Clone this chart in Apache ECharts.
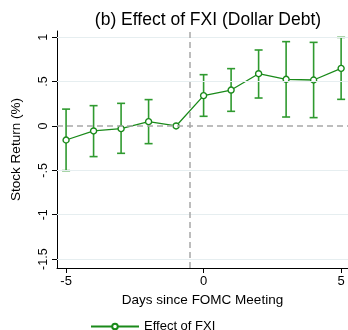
<!DOCTYPE html>
<html>
<head>
<meta charset="utf-8">
<script src="https://cdn.jsdelivr.net/npm/echarts@6/dist/echarts.min.js"></script>
<style>
  html, body { margin: 0; padding: 0; background: #fff; }
  #chart { width: 348px; height: 330px; }
</style>
</head>
<body>
<div id="chart"></div>
<script>
// Event-study estimates: days relative to the FOMC meeting
const days = [-5, -4, -3, -2, -1, 0, 1, 2, 3, 4, 5];
const effect = [-0.158, -0.056, -0.030, 0.049, 0.0, 0.342, 0.405, 0.589, 0.526, 0.518, 0.649];
const ciLow  = [-0.503, -0.345, -0.308, -0.199, 0.0, 0.109, 0.165, 0.315, 0.101, 0.094, 0.300];
const ciHigh = [0.190, 0.229, 0.255, 0.297, 0.0, 0.578, 0.646, 0.856, 0.950, 0.942, 0.998];

const yTicks = [-1.5, -1, -0.5, 0, 0.5, 1];
const yTickLabels = ['-1.5', '-1', '-.5', '0', '.5', '1'];
const xTicks = [-5, 0, 5];
const eventLine = -0.5;

const FONT = '"Liberation Sans", Arial, sans-serif';
const GREEN = '#1a8a1a';
const BAR_GREEN = '#2f9a2f';

const chart = echarts.init(document.getElementById('chart'), null, { renderer: 'canvas' });

const points = days.map((d, i) => [d, effect[i]]);
const bars = days.map((d, i) => [d, ciLow[i], ciHigh[i]]);

chart.setOption({
  animation: false,
  title: {
    text: '(b) Effect of FXI (Dollar Debt)',
    left: 203, top: 6, textAlign: 'center',
    textStyle: { fontFamily: FONT, fontSize: 17.5, fontWeight: 'normal', color: '#000' }
  },
  legend: {
    top: 315, left: 85,
    itemWidth: 48, itemHeight: 7, itemGap: 10,
    textStyle: { fontFamily: FONT, fontSize: 13, color: '#000' },
    data: ['Effect of FXI']
  },
  grid: { left: 57, right: 0, top: 31, bottom: 62, containLabel: false },
  xAxis: {
    type: 'value', min: -5.33, max: 5.25,
    name: 'Days since FOMC Meeting', nameLocation: 'middle', nameGap: 25,
    nameTextStyle: { fontFamily: FONT, fontSize: 13.5, color: '#000' },
    axisLine: { show: true, onZero: false, lineStyle: { color: '#000', width: 1 } },
    axisTick: { show: true, length: 5, customValues: xTicks, lineStyle: { color: '#000' } },
    axisLabel: { customValues: xTicks, fontFamily: FONT, fontSize: 13, color: '#000', margin: 7,
      formatter: v => String(v) },
    splitLine: { show: false }
  },
  yAxis: {
    type: 'value', min: -1.6, max: 1.07,
    name: 'Stock Return (%)', nameLocation: 'middle', nameGap: 34,
    nameTextStyle: { fontFamily: FONT, fontSize: 13.5, color: '#000' },
    axisLine: { show: true, onZero: false, lineStyle: { color: '#000', width: 1 } },
    axisTick: { show: true, length: 5, customValues: yTicks, lineStyle: { color: '#000' } },
    axisLabel: { customValues: yTicks, rotate: 90, fontFamily: FONT, fontSize: 12.5, color: '#000', margin: 7,
      formatter: v => yTickLabels[yTicks.indexOf(Math.round(v * 10) / 10)] },
    splitLine: { show: false }
  },
  series: [
    {
      // light horizontal grid at each labelled y value
      type: 'line', data: [], z: 1, silent: true,
      markLine: {
        symbol: 'none', silent: true, label: { show: false },
        lineStyle: { color: '#e6eef0', width: 1, type: 'solid' },
        data: yTicks.filter(v => v !== 0).map(v => ({ yAxis: v }))
      }
    },
    {
      // reference lines: zero return and the meeting boundary
      type: 'line', data: [], z: 2, silent: true,
      markLine: {
        symbol: 'none', silent: true, label: { show: false },
        lineStyle: { color: '#a8a8a8', width: 1.5, type: [6, 4] },
        data: [{ yAxis: 0 }, { xAxis: eventLine }]
      }
    },
    {
      name: 'CI', type: 'custom', z: 3,
      renderItem: (params, api) => {
        const x = api.value(0);
        const lo = api.coord([x, api.value(1)]);
        const hi = api.coord([x, api.value(2)]);
        if (Math.abs(lo[1] - hi[1]) < 1) return null;
        const cap = 4;
        const style = { stroke: BAR_GREEN, lineWidth: 1.6 };
        return {
          type: 'group',
          children: [
            { type: 'line', shape: { x1: lo[0], y1: lo[1], x2: hi[0], y2: hi[1] }, style },
            { type: 'line', shape: { x1: lo[0] - cap, y1: lo[1], x2: lo[0] + cap, y2: lo[1] }, style },
            { type: 'line', shape: { x1: hi[0] - cap, y1: hi[1], x2: hi[0] + cap, y2: hi[1] }, style }
          ]
        };
      },
      encode: { x: 0, y: [1, 2] },
      data: bars
    },
    {
      name: 'Effect of FXI', type: 'line', z: 4,
      data: points,
      symbol: 'circle', symbolSize: 6, showSymbol: true,
      lineStyle: { color: GREEN, width: 1.3 },
      itemStyle: { color: '#fff', borderColor: GREEN, borderWidth: 1.4 }
    }
  ]
});
</script>
</body>
</html>
